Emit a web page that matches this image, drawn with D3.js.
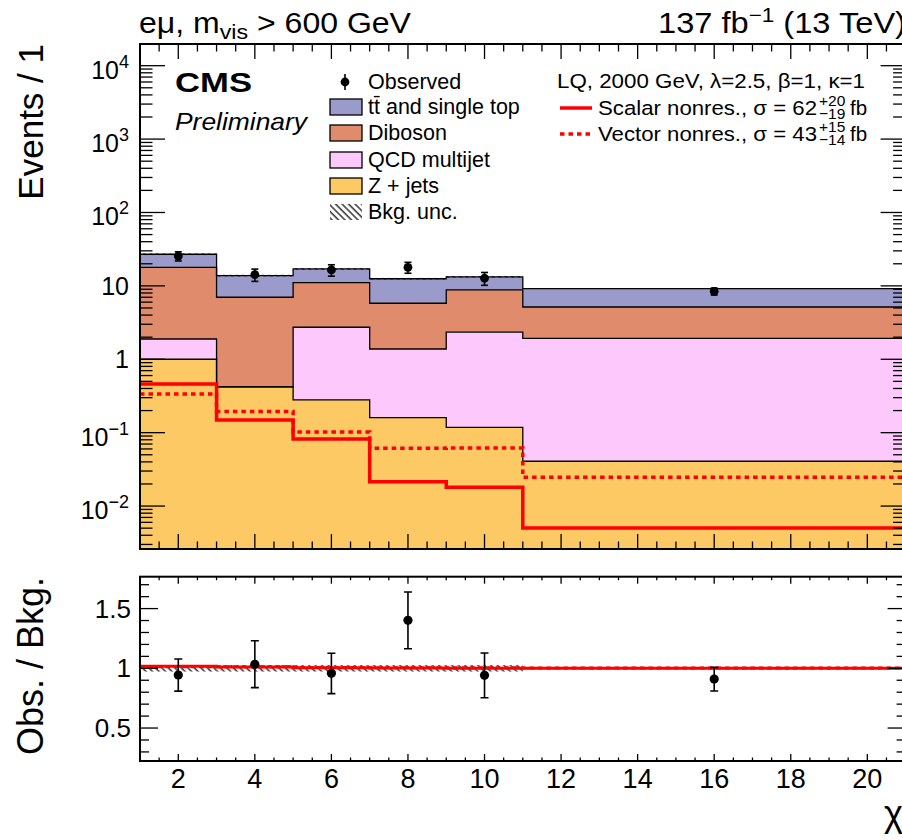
<!DOCTYPE html>
<html><head><meta charset="utf-8">
<script src="https://cdn.jsdelivr.net/npm/d3@7"></script>
<style>body{margin:0;background:#fff} svg{display:block} text{font-family:"Liberation Sans",Arial,Helvetica,sans-serif;fill:#000}</style>
</head><body><svg id="c" width="902" height="840"></svg>
<script>
// ---------------- data ----------------
const binEdges   = [1, 3, 5, 7, 9, 11, 21];
const binCenters = [2, 4, 6, 8, 10, 16];
const zjets   = [1.00, 0.42, 0.28, 0.160, 0.118, 0.0408];
const qcd     = [0.89, 0.00, 2.45, 1.22, 2.23, 1.89];
const diboson = [16.0, 6.58, 8.37, 4.42, 6.45, 3.22];
const ttbar   = [9.1, 6.8, 5.9, 6.7, 4.5, 4.01];
const bkgUnc  = [0.027, 0.027, 0.027, 0.027, 0.027, 0.008];
const observed = [25.5, 14.2, 16.5, 17.9, 12.7, 8.44];
const ratioVals = [0.944, 1.033, 0.958, 1.402, 0.941, 0.910];
const ratioErrUp = [0.134, 0.198, 0.168, 0.237, 0.187, 0.098];
const ratioErrDn = [0.135, 0.195, 0.170, 0.238, 0.187, 0.100];
const scalarSig = [0.461, 0.149, 0.082, 0.0215, 0.0180, 0.00503];
const vectorSig = [0.337, 0.194, 0.102, 0.0613, 0.0619, 0.0247];
const xTickLabels = [2, 4, 6, 8, 10, 12, 14, 16, 18, 20];
const yDecades = [-2, -1, 0, 1, 2, 3, 4];
const ratioTicks = [0.5, 1, 1.5];
const ratioTickLabels = ["0.5", "1", "1.5"];
const legendEntries = ["Observed", "tt\u0304 and single top", "Diboson", "QCD multijet", "Z + jets", "Bkg. unc."];
const colors = {zjets:"#FDC965", qcd:"#FDC9FD", diboson:"#DF8B6C", ttbar:"#9B9BCB"};

// ---------------- layout ----------------
const L = 140, R = 905.6;
const mainTop = 44, mainBot = 549, ratTop = 576.7, ratBot = 761;
const svg = d3.select("#c");
const x = d3.scaleLinear().domain([1, 21]).range([L, R]);
const y = d3.scaleLog().domain([0.0026, 19750]).range([mainBot, mainTop]);
const yr = d3.scaleLinear().domain([0.224, 1.767]).range([ratBot, ratTop]);

const defs = svg.append("defs");
const pat = defs.append("pattern").attr("id", "hatch").attr("patternUnits", "userSpaceOnUse")
  .attr("width", 4.6).attr("height", 4.6).attr("patternTransform", "rotate(-45)");
pat.append("line").attr("x1", 1).attr("y1", 0).attr("x2", 1).attr("y2", 4.6)
  .attr("stroke", "#000").attr("stroke-width", 1.2);
defs.append("clipPath").attr("id", "clipMain").append("rect")
  .attr("x", L).attr("y", mainTop).attr("width", R - L).attr("height", mainBot - mainTop);
defs.append("clipPath").attr("id", "clipRat").append("rect")
  .attr("x", L).attr("y", ratTop).attr("width", R - L).attr("height", ratBot - ratTop);

function stepPts(vals) {
  const p = [];
  vals.forEach((v, i) => { p.push([binEdges[i], v]); p.push([binEdges[i + 1], v]); });
  return p;
}

// ---------------- main panel ----------------
const gMain = svg.append("g").attr("clip-path", "url(#clipMain)");
const c0 = zjets;
const c1 = c0.map((v, i) => v + qcd[i]);
const c2 = c1.map((v, i) => v + diboson[i]);
const c3 = c2.map((v, i) => v + ttbar[i]);
const layers = [[c3, colors.ttbar], [c2, colors.diboson], [c1, colors.qcd], [c0, colors.zjets]];
const area = d3.area().x(d => x(d[0])).y0(mainBot + 10).y1(d => y(Math.max(d[1], 1e-6)));
const line = d3.line().x(d => x(d[0])).y(d => y(Math.max(d[1], 1e-6)));
layers.forEach(([vals, col]) => {
  gMain.append("path").attr("d", area(stepPts(vals))).attr("fill", col).attr("stroke", "none");
});
layers.forEach(([vals]) => {
  gMain.append("path").attr("d", line(stepPts(vals))).attr("fill", "none").attr("stroke", "#000").attr("stroke-width", 1.3);
});
// bkg uncertainty band
c3.forEach((v, i) => {
  gMain.append("rect").attr("x", x(binEdges[i])).attr("width", x(binEdges[i + 1]) - x(binEdges[i]))
    .attr("y", y(v * (1 + bkgUnc[i]))).attr("height", y(v * (1 - bkgUnc[i])) - y(v * (1 + bkgUnc[i])))
    .attr("fill", "url(#hatch)");
});
// signals
gMain.append("path").attr("d", line(stepPts(scalarSig))).attr("fill", "none").attr("stroke", "#FF0000").attr("stroke-width", 3.5);
gMain.append("path").attr("d", line(stepPts(vectorSig))).attr("fill", "none").attr("stroke", "#FF0000").attr("stroke-width", 3.5).attr("stroke-dasharray", "4.5,4");
// observed
observed.forEach((v, i) => {
  const rel = v / ratioVals[i];
  const up = v + ratioErrUp[i] * rel, dn = v - ratioErrDn[i] * rel;
  const cx = x(binCenters[i]);
  gMain.append("line").attr("x1", cx).attr("x2", cx).attr("y1", y(up)).attr("y2", y(dn)).attr("stroke", "#000").attr("stroke-width", 1.6);
  [up, dn].forEach(e => gMain.append("line").attr("x1", cx - 3.5).attr("x2", cx + 3.5).attr("y1", y(e)).attr("y2", y(e)).attr("stroke", "#000").attr("stroke-width", 1.6));
  gMain.append("circle").attr("cx", cx).attr("cy", y(v)).attr("r", 4.4).attr("fill", "#000");
});

// ---------------- ratio panel ----------------
const gRat = svg.append("g").attr("clip-path", "url(#clipRat)");
bkgUnc.forEach((u, i) => {
  gRat.append("rect").attr("x", x(binEdges[i])).attr("width", x(binEdges[i + 1]) - x(binEdges[i]))
    .attr("y", yr(1 + u)).attr("height", yr(1 - u) - yr(1 + u)).attr("fill", "url(#hatch)");
});
const rline = d3.line().x(d => x(d[0])).y(d => yr(d[1]));
const sRat = scalarSig.map((s, i) => (c3[i] + s) / c3[i]);
const vRat = vectorSig.map((s, i) => (c3[i] + s) / c3[i]);
gRat.append("path").attr("d", rline(stepPts(sRat))).attr("fill", "none").attr("stroke", "#FF0000").attr("stroke-width", 3);
gRat.append("path").attr("d", rline(stepPts(vRat))).attr("fill", "none").attr("stroke", "#FF0000").attr("stroke-width", 3).attr("stroke-dasharray", "4.5,4");
ratioVals.forEach((v, i) => {
  const cx = x(binCenters[i]);
  const up = v + ratioErrUp[i], dn = v - ratioErrDn[i];
  gRat.append("line").attr("x1", cx).attr("x2", cx).attr("y1", yr(up)).attr("y2", yr(dn)).attr("stroke", "#000").attr("stroke-width", 1.6);
  [up, dn].forEach(e => gRat.append("line").attr("x1", cx - 4).attr("x2", cx + 4).attr("y1", yr(e)).attr("y2", yr(e)).attr("stroke", "#000").attr("stroke-width", 1.6));
  gRat.append("circle").attr("cx", cx).attr("cy", yr(v)).attr("r", 4.6).attr("fill", "#000");
});

// ---------------- axes / frames ----------------
const gAx = svg.append("g").attr("stroke", "#000");
function frame(t, b) {
  gAx.append("rect").attr("x", L).attr("y", t).attr("width", R - L).attr("height", b - t)
    .attr("fill", "none").attr("stroke-width", 2);
}
frame(mainTop, mainBot); frame(ratTop, ratBot);
const minorX = d3.range(1, 21.001, 0.5);
function xTicks(t, b, maj, mn) {
  minorX.forEach(v => {
    const len = (Math.abs(v % 2) < 1e-9) ? maj : mn;
    const px = x(v);
    gAx.append("line").attr("x1", px).attr("x2", px).attr("y1", b).attr("y2", b - len).attr("stroke-width", 1.3);
    gAx.append("line").attr("x1", px).attr("x2", px).attr("y1", t).attr("y2", t + len).attr("stroke-width", 1.3);
  });
}
xTicks(mainTop, mainBot, 15, 7.5);
xTicks(ratTop, ratBot, 7, 3.5);
// main y ticks
yDecades.concat([-3]).forEach(k => {
  for (let m = 1; m <= 9; m++) {
    const v = m * Math.pow(10, k);
    if (v < y.domain()[0] || v > y.domain()[1]) continue;
    const len = m === 1 ? 25 : 12.5;
    const py = y(v);
    gAx.append("line").attr("x1", L).attr("x2", L + len).attr("y1", py).attr("y2", py).attr("stroke-width", 1.3);
    gAx.append("line").attr("x1", R).attr("x2", R - len).attr("y1", py).attr("y2", py).attr("stroke-width", 1.3);
  }
});
// ratio y ticks
d3.range(0.3, 1.75, 0.1).forEach(v => {
  const major = Math.abs(v * 2 - Math.round(v * 2)) < 1e-6;
  const len = major ? 18 : 9;
  const py = yr(v);
  gAx.append("line").attr("x1", L).attr("x2", L + len).attr("y1", py).attr("y2", py).attr("stroke-width", 1.3);
  gAx.append("line").attr("x1", R).attr("x2", R - len).attr("y1", py).attr("y2", py).attr("stroke-width", 1.3);
});

// ---------------- tick labels ----------------
const FS = 25;
yDecades.forEach(k => {
  const py = y(Math.pow(10, k));
  if (k === 0 || k === 1) {
    svg.append("text").attr("x", 129).attr("y", py + 9).attr("text-anchor", "end").attr("font-size", FS)
      .text(k === 0 ? "1" : "10");
  } else {
    const t = svg.append("text").attr("x", 129).attr("y", py + 13).attr("text-anchor", "end").attr("font-size", FS);
    t.append("tspan").text("10");
    t.append("tspan").attr("dy", -11).attr("font-size", 18).text(k < 0 ? "\u2212" + (-k) : String(k));
  }
});
ratioTicks.forEach((v, i) => {
  svg.append("text").attr("x", 131).attr("y", yr(v) + 9).attr("text-anchor", "end").attr("font-size", 26).text(ratioTickLabels[i]);
});
xTickLabels.forEach(v => {
  svg.append("text").attr("x", x(v)).attr("y", 788).attr("text-anchor", "middle").attr("font-size", 27).text(v);
});

// ---------------- axis titles ----------------
svg.append("text").attr("transform", "translate(43,44) rotate(-90)").attr("text-anchor", "end").attr("font-size", 35).text("Events / 1");
svg.append("text").attr("transform", "translate(43,577) rotate(-90)").attr("text-anchor", "end").attr("font-size", 36).text("Obs. / Bkg.");
svg.append("text").attr("x", -14).attr("y", 783).attr("font-size", 26).text("0");
svg.append("text").attr("x", 884).attr("y", 826).attr("font-size", 36).text("\u03C7");

// ---------------- headers ----------------
const h1 = svg.append("text").attr("x", 139).attr("y", 33).attr("font-size", 29)
  .attr("textLength", 272).attr("lengthAdjust", "spacingAndGlyphs");
h1.append("tspan").text("e\u03BC, m");
h1.append("tspan").attr("dy", 6).attr("font-size", 21).text("vis");
h1.append("tspan").attr("dy", -6).text(" > 600 GeV");
const h2 = svg.append("text").attr("x", 658).attr("y", 33).attr("font-size", 29)
  .attr("textLength", 248).attr("lengthAdjust", "spacingAndGlyphs");
h2.append("tspan").text("137 fb");
h2.append("tspan").attr("dy", -11).attr("font-size", 20).text("\u22121");
h2.append("tspan").attr("dy", 11).text(" (13 TeV)");
svg.append("text").attr("x", 175).attr("y", 92).attr("font-size", 27).attr("font-weight", "bold")
  .attr("textLength", 77).attr("lengthAdjust", "spacingAndGlyphs").text("CMS");
svg.append("text").attr("x", 175).attr("y", 130).attr("font-size", 24).attr("font-style", "italic")
  .attr("textLength", 132).attr("lengthAdjust", "spacingAndGlyphs").text("Preliminary");

// ---------------- legend ----------------
const LF = 21.5;
const rowY = [82, 107, 133, 160, 186, 212];
svg.append("line").attr("x1", 345).attr("x2", 345).attr("y1", 74).attr("y2", 90).attr("stroke", "#000").attr("stroke-width", 1.6);
svg.append("circle").attr("cx", 345).attr("cy", rowY[0]).attr("r", 4.4).attr("fill", "#000");
const boxCols = [colors.ttbar, colors.diboson, colors.qcd, colors.zjets];
boxCols.forEach((c, i) => {
  svg.append("rect").attr("x", 330).attr("y", rowY[i + 1] - 8).attr("width", 32).attr("height", 16)
    .attr("fill", c).attr("stroke", "#000").attr("stroke-width", 1.3);
});
svg.append("rect").attr("x", 330).attr("y", rowY[5] - 8).attr("width", 32).attr("height", 16).attr("fill", "url(#hatch)");
legendEntries.forEach((t, i) => {
  svg.append("text").attr("x", 368).attr("y", rowY[i] + 7).attr("font-size", LF).text(t);
});
svg.append("text").attr("x", 557).attr("y", 88).attr("font-size", 20.5)
  .attr("textLength", 308).attr("lengthAdjust", "spacingAndGlyphs").text("LQ, 2000 GeV, \u03BB=2.5, \u03B2=1, \u03BA=1");
svg.append("line").attr("x1", 560).attr("x2", 592).attr("y1", 108).attr("y2", 108).attr("stroke", "#FF0000").attr("stroke-width", 3.5);
svg.append("line").attr("x1", 560).attr("x2", 592).attr("y1", 134).attr("y2", 134).attr("stroke", "#FF0000").attr("stroke-width", 3.5).attr("stroke-dasharray", "4.5,4");
function sigText(yb, main, sup, sub) {
  svg.append("text").attr("x", 598).attr("y", yb).attr("font-size", 20.5)
    .attr("textLength", 219).attr("lengthAdjust", "spacingAndGlyphs").text(main);
  const x0 = 819;
  svg.append("text").attr("x", x0).attr("y", yb - 9).attr("font-size", 15.5).text(sup);
  svg.append("text").attr("x", x0).attr("y", yb + 4).attr("font-size", 15.5).text(sub);
  svg.append("text").attr("x", 850).attr("y", yb).attr("font-size", 20.5).text("fb");
}
sigText(115, "Scalar nonres., \u03C3 = 62", "+20", "\u221219");
sigText(141, "Vector nonres., \u03C3 = 43", "+15", "\u221214");
</script></body></html>
